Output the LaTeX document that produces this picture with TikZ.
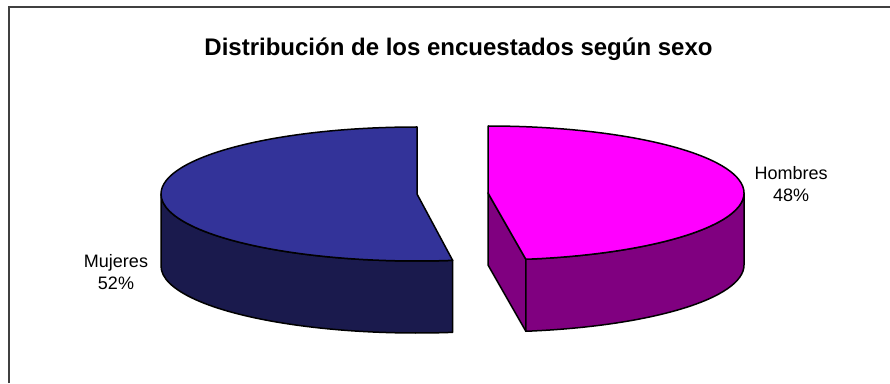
\documentclass[tikz,border=0pt]{standalone}
\usepackage{fontspec}
\setmainfont{Liberation Sans}
\usetikzlibrary{calc}
\definecolor{lefttop}{RGB}{51,51,153}
\definecolor{leftside}{RGB}{26,26,77}
\definecolor{righttop}{RGB}{255,0,255}
\definecolor{rightside}{RGB}{128,0,128}
\definecolor{framecol}{RGB}{64,64,64}
\tikzset{
  edge/.style={draw=black, line width=1.5pt, line join=round},
  ell/.style={x radius=256, y radius=67},
  lbl/.style={anchor=base, inner sep=0pt, font=\fontsize{18}{22}\selectfont},
}
\begin{document}
\begin{tikzpicture}[x=1pt,y=1pt]
\useasboundingbox (0,0) rectangle (890,383);
% frame
\coordinate (f1) at (9,0);
\coordinate (f2) at (9,376);
\coordinate (f3) at (890,376);
\draw[framecol, line width=1.5pt] (f1) -- (f2) -- (f3);
% title
\node[anchor=base, inner sep=0pt, font=\bfseries\fontsize{24}{28}\selectfont] (title) at (458.5,327) {Distribución de los encuestados según sexo};
% centres
\coordinate (L) at (417,189);
\coordinate (R) at (488,190);
\coordinate (Lb) at (417,117);
% left slice (Mujeres)
\path[edge, fill=leftside] ($(Lb)+(180:256 and 67)$) arc[start angle=180, end angle=278, ell] -- ++(0,72) arc[start angle=278, end angle=180, ell] -- cycle;
\path[edge, fill=lefttop] (L) -- ($(L)+(90:256 and 67)$) arc[start angle=90, end angle=278, ell] -- cycle;
% right slice (Hombres)
\path[edge, fill=rightside] (R) -- ($(R)+(-81.5:256 and 67)$) -- ++(0,-72) -- ($(R)+(0,-72)$) -- cycle;
\path[edge, fill=rightside] ($(R)+(-81.5:256 and 67)$) arc[start angle=-81.5, end angle=0, ell] -- ++(0,-72) arc[start angle=0, end angle=-81.5, ell] -- cycle;
\path[edge, fill=righttop] (R) -- ($(R)+(-81.5:256 and 67)$) arc[start angle=-81.5, end angle=90, ell] -- cycle;
% labels
\node[lbl] (muj) at (116,116) {\begin{tabular}[t]{@{}c@{}}Mujeres\\52\%\end{tabular}};
\node[lbl] (hom) at (791,203) {\begin{tabular}[t]{@{}c@{}}Hombres\\48\%\end{tabular}};
\end{tikzpicture}
\end{document}
